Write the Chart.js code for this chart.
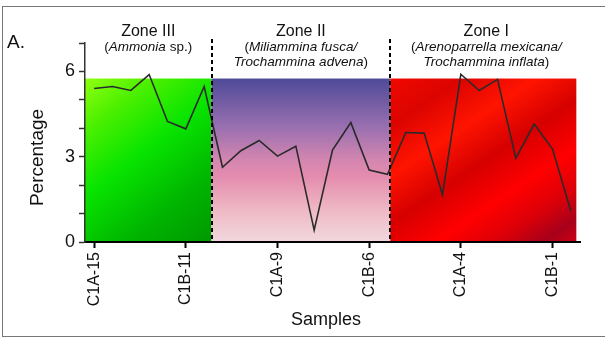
<!DOCTYPE html>
<html>
<head>
<meta charset="utf-8">
<script src="https://cdn.jsdelivr.net/npm/chart.js@4.4.0/dist/chart.umd.min.js"></script>
<style>
    html, body { margin: 0; padding: 0; background: #fff; }
    #wrap { position: relative; width: 605px; height: 340px; }
    #frame {
        position: absolute; left: 2px; top: 6px; width: 603px; height: 331px;
        border: 1px solid #777; border-right: none; box-sizing: border-box; pointer-events: none;
    }
</style>
</head>
<body>
<div id="wrap">
    <canvas id="chart" width="605" height="340"></canvas>
    <div id="frame"></div>
</div>
<script>
// Echantillons (un libellé sur cinq est affiché)
const samples = [
    'C1A-15', 'C1A-14', 'C1A-13', 'C1A-12', 'C1B-12',
    'C1B-11', 'C1A-11', 'C1A-10', 'C1B-10', 'C1B-9',
    'C1A-9', 'C1A-8', 'C1B-8', 'C1A-7', 'C1B-7',
    'C1B-6', 'C1A-6', 'C1A-5', 'C1B-5', 'C1B-4',
    'C1A-4', 'C1A-3', 'C1B-3', 'C1A-2', 'C1B-2',
    'C1B-1', 'C1A-1'
];
const percentage = [
    5.40, 5.47, 5.33, 5.89, 4.24,
    3.98, 5.47, 2.63, 3.21, 3.57,
    3.02, 3.37, 0.42, 3.23, 4.20,
    2.53, 2.38, 3.85, 3.83, 1.66,
    5.90, 5.33, 5.72, 2.95, 4.15,
    3.27, 1.09
];
const yTicks = [0, 3, 6];

// Zones (bornes en index d'échantillon)
const zoneNames = ['Zone III', 'Zone II', 'Zone I'];
const zoneFrom = [-0.5, 6.4, 16.15];
const zoneTo = [6.4, 16.15, 26.3];
const zoneTop = 5.75;
// sous-titres : [texte, italique]
const zoneSub = [
    [[['(', false], ['Ammonia', true], [' sp.)', false]]],
    [[['(', false], ['Miliammina fusca/', true]], [['Trochammina advena', true], [')', false]]],
    [[['(', false], ['Arenoparrella mexicana/', true]], [['Trochammina inflata', true], [')', false]]]
];

const FONT = 'Arial, "Liberation Sans", sans-serif';

function zoneFill(ctx, i, x0, x1, y0, y1) {
    let g;
    if (i === 0) {
        g = ctx.createLinearGradient(x0, y0, x1, y1);
        g.addColorStop(0, '#90ff10');
        g.addColorStop(0.2, '#4cf000');
        g.addColorStop(0.45, '#08e400');
        g.addColorStop(0.75, '#00b400');
        g.addColorStop(1, '#009800');
    } else if (i === 1) {
        g = ctx.createLinearGradient(0, y0, 0, y1);
        g.addColorStop(0, '#4e4a98');
        g.addColorStop(0.3, '#9a70b0');
        g.addColorStop(0.5, '#d486b0');
        g.addColorStop(0.6, '#e48cae');
        g.addColorStop(0.8, '#eeb8c4');
        g.addColorStop(1, '#f2d8de');
    } else {
        g = ctx.createLinearGradient(x0, y0, x0 + (x1 - x0) * 0.8, y1 + 60);
        g.addColorStop(0, '#f00800');
        g.addColorStop(0.15, '#dc0400');
        g.addColorStop(0.3, '#ff1400');
        g.addColorStop(0.45, '#d60000');
        g.addColorStop(0.6, '#ff0000');
        g.addColorStop(0.72, '#dc0008');
        g.addColorStop(0.82, '#a8001a');
        g.addColorStop(0.92, '#dc0010');
        g.addColorStop(1, '#f40000');
    }
    return g;
}

function drawMixed(ctx, parts, cx, y, size) {
    let total = 0;
    const widths = parts.map(([t, it]) => {
        ctx.font = (it ? 'italic ' : '') + size + 'px ' + FONT;
        const w = ctx.measureText(t).width;
        total += w;
        return w;
    });
    let x = cx - total / 2;
    parts.forEach(([t, it], k) => {
        ctx.font = (it ? 'italic ' : '') + size + 'px ' + FONT;
        ctx.fillText(t, x, y);
        x += widths[k];
    });
}

const zonesPlugin = {
    id: 'zones',
    beforeDraw(chart) {
        const { ctx, scales: { x, y } } = chart;
        ctx.save();
        const yt = y.getPixelForValue(zoneTop);
        const yb = y.getPixelForValue(0);
        zoneNames.forEach((_, i) => {
            const x0 = x.getPixelForValue(zoneFrom[i]);
            const x1 = x.getPixelForValue(zoneTo[i]);
            ctx.fillStyle = zoneFill(ctx, i, x0, x1, yt, yb);
            ctx.fillRect(x0, yt, x1 - x0, yb - yt);
        });
        ctx.restore();
    },
    afterDatasetsDraw(chart) {
        const { ctx, chartArea, scales: { x, y } } = chart;
        ctx.save();
        // séparations en pointillés
        ctx.strokeStyle = '#000';
        ctx.lineWidth = 2;
        ctx.setLineDash([4, 3]);
        [zoneFrom[1], zoneFrom[2]].forEach(v => {
            const px = Math.round(x.getPixelForValue(v));
            ctx.beginPath();
            ctx.moveTo(px, chartArea.top - 4);
            ctx.lineTo(px, y.getPixelForValue(0));
            ctx.stroke();
        });
        ctx.setLineDash([]);

        // titres des zones
        ctx.fillStyle = '#111';
        ctx.textBaseline = 'alphabetic';
        zoneNames.forEach((name, i) => {
            const cx = (x.getPixelForValue(zoneFrom[i]) + x.getPixelForValue(zoneTo[i])) / 2 + (i === 2 ? 3 : 0);
            ctx.font = '16px ' + FONT;
            ctx.textAlign = 'center';
            ctx.fillText(name, cx, 36);
            ctx.textAlign = 'left';
            zoneSub[i].forEach((line, k) => drawMixed(ctx, line, cx, 51 + k * 15, 13.5));
        });

        ctx.font = '19px ' + FONT;
        ctx.textAlign = 'left';
        ctx.fillText('A.', 7, 48);

        // titre de l'axe X
        ctx.font = '18px ' + FONT;
        ctx.textAlign = 'center';
        ctx.textBaseline = 'middle';
        ctx.fillText('Samples', 326, 320);

        // titre de l'axe Y
        ctx.translate(37.5, 157.5);
        ctx.rotate(-Math.PI / 2);
        ctx.font = '19px ' + FONT;
        ctx.fillText('Percentage', 0, 0);
        ctx.restore();
    }
};

const ctx = document.getElementById('chart').getContext('2d');

new Chart(ctx, {
    type: 'line',
    data: {
        labels: samples,
        datasets: [{
            data: percentage,
            borderColor: '#2a2a2a',
            borderWidth: 1.6,
            pointRadius: 0,
            tension: 0,
            fill: false
        }]
    },
    options: {
        responsive: false,
        animation: false,
        events: [],
        layout: { padding: { left: 0, top: 43, right: 25, bottom: 0 } },
        plugins: { legend: { display: false }, tooltip: { enabled: false } },
        scales: {
            x: {
                type: 'category',
                offset: true,
                afterFit: (s) => { s.height = 98; },
                border: { display: true, color: '#000', width: 2 },
                grid: {
                    drawOnChartArea: false,
                    drawTicks: true,
                    tickLength: 6,
                    tickWidth: 2,
                    tickColor: (c) => (c.index % 5 === 0 ? '#000' : 'rgba(0,0,0,0)')
                },
                ticks: {
                    autoSkip: false,
                    minRotation: 90,
                    maxRotation: 90,
                    padding: 4,
                    color: '#111',
                    font: { family: FONT, size: 16 },
                    callback: (v, i) => (i % 5 === 0 ? samples[i] : '')
                }
            },
            y: {
                min: 0,
                max: 7,
                afterFit: (s) => { s.width = 85; },
                border: { display: true, color: '#333', width: 1.5 },
                grid: {
                    drawOnChartArea: false,
                    tickLength: 6,
                    tickWidth: 1.5,
                    tickColor: '#333'
                },
                ticks: {
                    stepSize: 1,
                    padding: 4,
                    color: '#111',
                    font: { family: FONT, size: 18 },
                    callback: (v) => (yTicks.includes(v) ? String(v) : '')
                }
            }
        }
    },
    plugins: [zonesPlugin]
});
</script>
</body>
</html>
